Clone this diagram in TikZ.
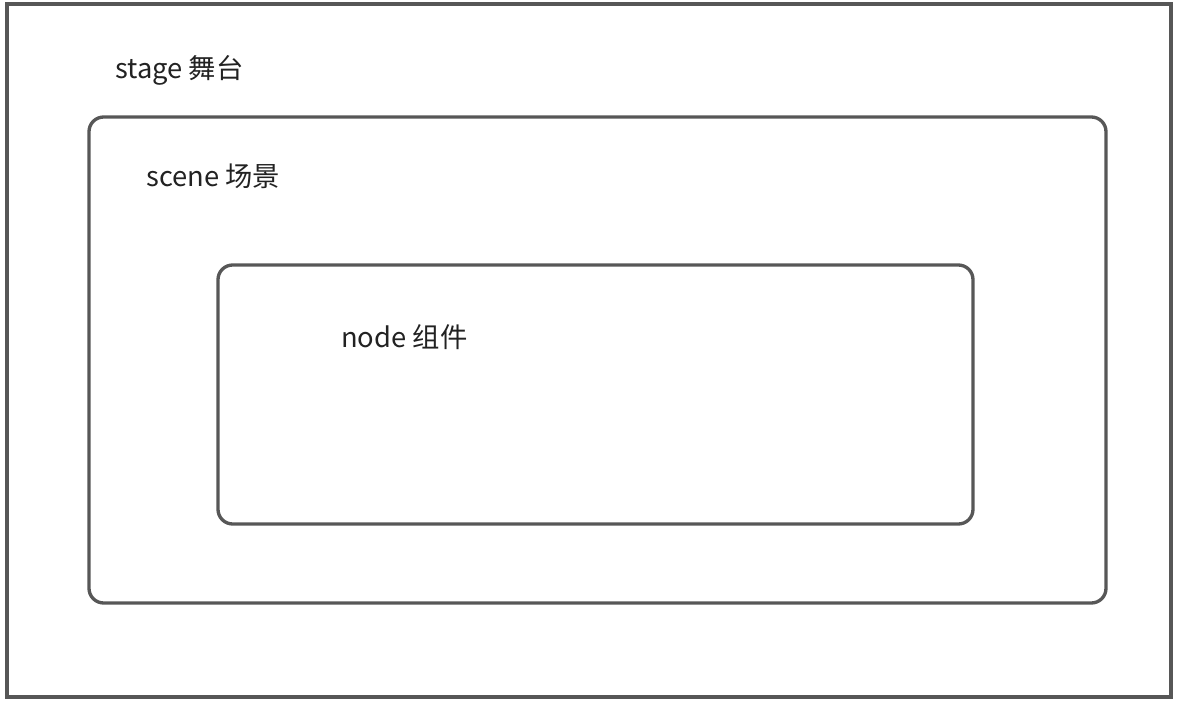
\documentclass[tikz,border=0pt]{standalone}
\usepackage{fontspec}
\setmainfont{Noto Sans CJK SC}
\usetikzlibrary{positioning}

\tikzset{
  frame/.style={draw=frameGray, line width=2.5pt},
  roundframe/.style={frame, rounded corners=11pt},
  lbl/.style={anchor=base west, inner sep=0pt, font=\fontsize{20.5}{24}\selectfont, text=textGray}
}
\definecolor{frameGray}{HTML}{575757}
\definecolor{textGray}{HTML}{222222}

\begin{document}
\begin{tikzpicture}[x=0.75pt, y=-0.75pt]
	\useasboundingbox (0,0) rectangle (1178,702);
	% stage
	\draw[frame] (7,4) rectangle (1171,697);
	\node[lbl] (stage) at (115,79) {stage 舞台};
	% scene
	\draw[roundframe] (89,117) rectangle (1106,603);
	\node[lbl] (scene) at (146,187) {scene 场景};
	% node
	\draw[roundframe] (218,265) rectangle (973,524);
	\node[lbl] (comp) at (341,347) {node 组件};
\end{tikzpicture}
\end{document}
